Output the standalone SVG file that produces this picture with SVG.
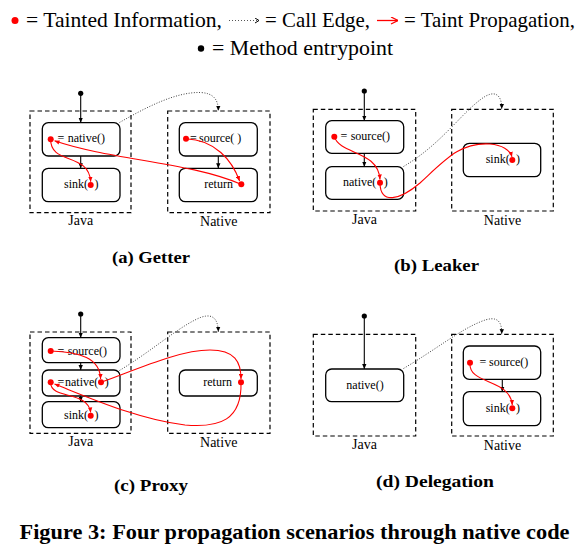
<svg xmlns="http://www.w3.org/2000/svg" width="587" height="555" viewBox="0 0 587 555">
<defs>
<marker id="ab" viewBox="0 0 6 6" refX="6" refY="3" markerWidth="5" markerHeight="5" orient="auto" markerUnits="userSpaceOnUse"><path d="M0,0.4 L6,3 L0,5.6 z" fill="#000"/></marker>
<marker id="ar" viewBox="0 0 6 6" refX="6" refY="3" markerWidth="5" markerHeight="5" orient="auto" markerUnits="userSpaceOnUse"><path d="M0,0.4 L6,3 L0,5.6 z" fill="#f00"/></marker>
<marker id="chev" viewBox="0 0 6 6" refX="5" refY="3" markerWidth="6" markerHeight="6" orient="auto" markerUnits="userSpaceOnUse"><path d="M1,0.5 L5,3 L1,5.5" fill="none" stroke="#000" stroke-width="1"/></marker>
<marker id="arL" viewBox="0 0 8 8" refX="8" refY="4" markerWidth="8" markerHeight="8" orient="auto" markerUnits="userSpaceOnUse"><path d="M1,0.5 L8,4 L1,7.5" fill="none" stroke="#f00" stroke-width="1.3"/></marker>
</defs>
<style>
.dash{fill:none;stroke:#000;stroke-width:1.2;stroke-dasharray:4.5 3}
.box{fill:#fff;stroke:#000;stroke-width:1.3}
.t{font-family:"Liberation Serif",serif;font-size:12px;fill:#000}
.lbl{font-family:"Liberation Serif",serif;font-size:14px;fill:#000;text-anchor:middle}
.leg{font-family:"Liberation Serif",serif;font-size:21px;fill:#000}
.cap{font-family:"Liberation Serif",serif;font-weight:bold;font-size:17px;fill:#000;text-anchor:middle}
.fig{font-family:"Liberation Serif",serif;font-weight:bold;font-size:21px;fill:#000}
.red{fill:none;stroke:#f00;stroke-width:1.1;marker-end:url(#ar)}
.blk{fill:none;stroke:#000;stroke-width:1.1;marker-end:url(#ab)}
.call{fill:none;stroke:#444;stroke-width:1;stroke-dasharray:1 1.6;marker-end:url(#ab)}
.rd{fill:#f00}
.bd{fill:#000}
</style>

<g id="legend">
<circle class="rd" cx="15" cy="20.5" r="3.5"/>
<text class="leg" x="26" y="26.5" textLength="196" lengthAdjust="spacingAndGlyphs">= Tainted Information,</text>
<path d="M229,20.5 L259,20.5" fill="none" stroke="#555" stroke-width="1" stroke-dasharray="1 2" marker-end="url(#chev)"/>
<text class="leg" x="265" y="26.5" textLength="105" lengthAdjust="spacingAndGlyphs">= Call Edge,</text>
<path d="M377,20.5 L398,20.5" fill="none" stroke="#f00" stroke-width="1.3" marker-end="url(#arL)"/>
<text class="leg" x="404" y="26.5" textLength="171" lengthAdjust="spacingAndGlyphs">= Taint Propagation,</text>
<circle class="bd" cx="201" cy="48.5" r="3.2"/>
<text class="leg" x="212" y="54.5" textLength="181" lengthAdjust="spacingAndGlyphs">= Method entrypoint</text>
</g>

<!-- Panel (a) Getter -->
<g id="a-java"><rect class="dash" x="30" y="111" width="101" height="101.7"/><text class="lbl" x="80.7" y="224.5">Java</text></g>
<g id="a-native"><rect class="dash" x="167.7" y="111" width="102.3" height="101.7"/><text class="lbl" x="218.7" y="225.5">Native</text></g>
<g id="a-entry"><circle class="bd" cx="80.7" cy="93.3" r="2.6"/></g>
<g id="a-nativecall"><rect class="box" x="42.3" y="122.7" width="77.7" height="33.3" rx="6"/><text class="t" y="141.8"><tspan x="57.5">=</tspan><tspan x="67.7">native()</tspan></text></g>
<g id="a-sink"><rect class="box" x="42.3" y="168.3" width="77.7" height="33.4" rx="6"/><text class="t" x="64" y="187.8">sink(</text><text class="t" x="94.5" y="187.8">)</text></g>
<g id="a-source"><rect class="box" x="179.3" y="122.7" width="78" height="33.3" rx="6"/><text class="t" y="141.8"><tspan x="190">=</tspan><tspan x="199">source( )</tspan></text></g>
<g id="a-return"><rect class="box" x="179.3" y="168.3" width="78" height="33.4" rx="6"/><text class="t" x="204.3" y="187.8">return</text></g>

<!-- Panel (b) Leaker -->
<g id="b-java"><rect class="dash" x="313.3" y="109.3" width="102.4" height="101.7"/><text class="lbl" x="364.5" y="223.5">Java</text></g>
<g id="b-native"><rect class="dash" x="451.7" y="109.3" width="101.6" height="101.7"/><text class="lbl" x="502.5" y="225">Native</text></g>
<g id="b-entry"><circle class="bd" cx="364.3" cy="91" r="2.6"/></g>
<g id="b-source"><rect class="box" x="325.7" y="120.7" width="78" height="32.6" rx="6"/><text class="t" y="139.8"><tspan x="340.5">=</tspan><tspan x="350.7">source()</tspan></text></g>
<g id="b-nativecall"><rect class="box" x="325.7" y="166.7" width="78" height="32.6" rx="6"/><text class="t" x="343" y="186">native(</text><text class="t" x="383.8" y="186">)</text></g>
<g id="b-sink"><rect class="box" x="463.3" y="143.3" width="77.4" height="33.4" rx="6"/><text class="t" x="485.7" y="163.3">sink(</text><text class="t" x="516" y="163.3">)</text></g>

<!-- Panel (c) Proxy -->
<g id="c-java"><rect class="dash" x="30" y="332" width="101" height="101.3"/><text class="lbl" x="80.7" y="446">Java</text></g>
<g id="c-native"><rect class="dash" x="167.7" y="332" width="102.3" height="101.3"/><text class="lbl" x="218.7" y="447">Native</text></g>
<g id="c-entry"><circle class="bd" cx="80.7" cy="314" r="2.6"/></g>
<g id="c-source"><rect class="box" x="42.3" y="337.7" width="77.7" height="25" rx="6"/><text class="t" y="354.5"><tspan x="57.5">=</tspan><tspan x="67.7">source()</tspan></text></g>
<g id="c-nativecall"><rect class="box" x="42.3" y="370" width="77.7" height="26" rx="6"/><text class="t" y="386"><tspan x="57.5">=</tspan><tspan x="65">native(</tspan></text><text class="t" x="104.8" y="386">)</text></g>
<g id="c-sink"><rect class="box" x="42.3" y="401.7" width="77.7" height="26" rx="6"/><text class="t" x="64" y="419">sink(</text><text class="t" x="94.5" y="419">)</text></g>
<g id="c-return"><rect class="box" x="179.3" y="370" width="78" height="26" rx="6"/><text class="t" x="203.3" y="386">return</text></g>

<!-- Panel (d) Delegation -->
<g id="d-java"><rect class="dash" x="313.3" y="334.3" width="102.4" height="101.7"/><text class="lbl" x="364.5" y="449">Java</text></g>
<g id="d-native"><rect class="dash" x="451.7" y="334.3" width="101.6" height="101.7"/><text class="lbl" x="502.5" y="450">Native</text></g>
<g id="d-entry"><circle class="bd" cx="364.3" cy="316" r="2.6"/></g>
<g id="d-nativecall"><rect class="box" x="325.7" y="369" width="78" height="32.7" rx="6"/><text class="t" x="365" y="388.8" text-anchor="middle">native()</text></g>
<g id="d-source"><rect class="box" x="463.3" y="346" width="77.4" height="33.3" rx="6"/><text class="t" y="366"><tspan x="479.5">=</tspan><tspan x="489">source()</tspan></text></g>
<g id="d-sink"><rect class="box" x="463.3" y="391.7" width="77.4" height="34" rx="6"/><text class="t" x="485.7" y="411.6">sink(</text><text class="t" x="516" y="411.6">)</text></g>

<g id="connectors">
<!-- (a) -->
<path class="blk" d="M80.7,93.3 L80.7,122.7"/>
<path class="blk" d="M80.7,156 L80.7,168.3"/>
<path class="blk" d="M218.3,156 L218.3,168.3"/>
<path class="call" d="M119.5,122.5 C145,108 175,92 200,92.5 C213,93 218.3,99 218.3,110.8"/>
<path class="red" d="M50.7,139.3 C50,165 89,152 90.7,181.8"/>
<path class="red" d="M186,138.8 C215,140 232,160 239.6,181"/>
<path class="red" d="M241,184.3 C190,162 110,160 54.5,140.8"/>
<!-- (b) -->
<path class="blk" d="M364.3,91 L364.3,120.7"/>
<path class="blk" d="M364.3,153.3 L364.3,166.7"/>
<path class="call" d="M403.5,166.5 C440,145 460,115 480,100 C495,88 502,95 501.7,109"/>
<path class="red" d="M334.3,136.7 C340,155 378,150 380,179.5"/>
<path class="red" d="M380,182.7 C380,205 400,200 420,183 C445,160 460,142 490,144 C502,145 510,150 512,156.8"/>
<!-- (c) -->
<path class="blk" d="M80.7,314 L80.7,337.7"/>
<path class="blk" d="M80.7,362.7 L80.7,370"/>
<path class="blk" d="M80.7,396 L80.7,401.7"/>
<path class="call" d="M119.5,370.5 C150,352 175,330 195,320 C212,311 218,318 218.3,331.8"/>
<path class="red" d="M50.7,351 C80,352 100,358 100.6,379"/>
<path class="red" d="M101,382.3 C140,368 180,350 210,350 C235,350 241,362 241,379"/>
<path class="red" d="M241,382.3 C242,420 220,428 185,425 C140,420 90,398 54.5,384"/>
<path class="red" d="M50.7,382.3 C50,400 88,390 90.7,412.5"/>
<!-- (d) -->
<path class="blk" d="M364.3,316 L364.3,369"/>
<path class="blk" d="M502.3,379.3 L502.3,391.7"/>
<path class="call" d="M403.5,368.5 C435,350 460,330 480,322 C498,314 502,322 501.7,334.1"/>
<path class="red" d="M470,362.7 C468,385 510,378 512.3,405"/>
</g>

<g id="taint-dots">
<circle class="rd" cx="50.7" cy="139.3" r="3"/>
<circle class="rd" cx="90.7" cy="185" r="3"/>
<circle class="rd" cx="186" cy="138.8" r="3"/>
<circle class="rd" cx="241.3" cy="184.3" r="3"/>
<circle class="rd" cx="334.3" cy="136.7" r="3"/>
<circle class="rd" cx="380" cy="182.7" r="3"/>
<circle class="rd" cx="512.3" cy="160" r="3"/>
<circle class="rd" cx="50.7" cy="351" r="3"/>
<circle class="rd" cx="50.7" cy="382.3" r="3"/>
<circle class="rd" cx="101" cy="382.3" r="3"/>
<circle class="rd" cx="90.7" cy="415.7" r="3"/>
<circle class="rd" cx="241" cy="382.3" r="3"/>
<circle class="rd" cx="470" cy="362.7" r="3"/>
<circle class="rd" cx="512.3" cy="408.3" r="3"/>
</g>

<g id="captions">
<text class="cap" x="151" y="262.7" textLength="78" lengthAdjust="spacingAndGlyphs">(a) Getter</text>
<text class="cap" x="436.5" y="271" textLength="85" lengthAdjust="spacingAndGlyphs">(b) Leaker</text>
<text class="cap" x="151" y="490.5" textLength="74" lengthAdjust="spacingAndGlyphs">(c) Proxy</text>
<text class="cap" x="435" y="486.7" textLength="118" lengthAdjust="spacingAndGlyphs">(d) Delegation</text>
<text class="fig" x="19.5" y="538.5" textLength="550" lengthAdjust="spacingAndGlyphs">Figure 3: Four propagation scenarios through native code</text>
</g>
</svg>
